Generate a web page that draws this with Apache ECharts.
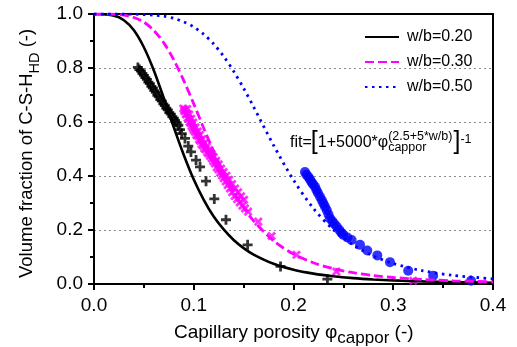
<!DOCTYPE html>
<html>
<head>
<meta charset="utf-8">
<script src="https://cdn.jsdelivr.net/npm/echarts@6/dist/echarts.min.js"></script>
<style>
html,body{margin:0;padding:0;background:#fff;}
#c{width:517px;height:347px;}
</style>
</head>
<body>
<div id="c"></div>
<script>
// ---- data ----
const xTicks = [0.0, 0.1, 0.2, 0.3, 0.4];
const yTicks = [0.0, 0.2, 0.4, 0.6, 0.8, 1.0];
const seriesNames = ['w/b=0.20', 'w/b=0.30', 'w/b=0.50'];

// fitted curves (x grid and y values)
const curveX = [0,0.02,0.03,0.04,0.05,0.06,0.07,0.08,0.09,0.10,0.11,0.12,0.13,0.14,0.15,0.16,0.18,0.20,0.22,0.24,0.26,0.28,0.30,0.33,0.36,0.40];
const fit020 = [1,0.994,0.977,0.940,0.877,0.791,0.688,0.580,0.478,0.387,0.312,0.250,0.202,0.163,0.133,0.109,0.0748,0.0529,0.0385,0.0287,0.0218,0.0169,0.0133,0.0096,0.0071,0.0049];
const fit030 = [1,0.999,0.996,0.987,0.970,0.939,0.893,0.830,0.753,0.667,0.577,0.491,0.412,0.342,0.283,0.234,0.160,0.111,0.0787,0.0569,0.0419,0.0315,0.0241,0.0166,0.0118,0.0078];
const fit050 = [1,1.000,1.000,0.9995,0.998,0.996,0.992,0.984,0.971,0.952,0.925,0.889,0.843,0.788,0.725,0.656,0.514,0.385,0.280,0.201,0.144,0.104,0.0760,0.0486,0.0320,0.0192];

// measured points
const meas020x = [0.0440,0.0455,0.0470,0.0485,0.0500,0.0515,0.0530,0.0545,0.0560,0.0575,0.0590,0.0605,0.0620,0.0635,0.0650,0.0665,0.0680,0.0695,0.0710,0.0725,0.0740,0.0755,0.0770,0.0785,0.0800,0.0812,0.0828,0.0845,0.0862,0.0879,0.0912,0.0945,0.0972,0.1023,0.1063,0.1123,0.1206,0.1323,0.1540,0.1870,0.2340];
const meas020y = [0.802,0.794,0.789,0.780,0.773,0.764,0.758,0.748,0.742,0.732,0.726,0.716,0.710,0.699,0.693,0.683,0.677,0.667,0.661,0.651,0.645,0.635,0.629,0.620,0.614,0.606,0.598,0.588,0.572,0.557,0.539,0.511,0.489,0.459,0.434,0.381,0.315,0.238,0.145,0.065,0.018];
const meas030x = [0.0895,0.0905,0.0912,0.0920,0.0930,0.0938,0.0948,0.0958,0.0968,0.0978,0.0990,0.1000,0.1013,0.1025,0.1040,0.1052,0.1065,0.1078,0.1092,0.1105,0.1120,0.1135,0.1150,0.1163,0.1180,0.1195,0.1212,0.1230,0.1248,0.1265,0.1283,0.1300,0.1320,0.1340,0.1363,0.1385,0.1410,0.1435,0.1460,0.1488,0.1514,0.1545,0.1647,0.1780,0.2030,0.2430,0.3200,
  0.0935,0.0955,0.0975,0.0995,0.1018,0.1040,0.1062,0.1085,0.1108,0.1130,0.1155,0.1178,0.1200,0.1225,0.1250,0.1275,0.1300,0.1328,0.1355,0.1385,0.1415,0.1445,0.1475,0.1505];
const meas030y = [0.650,0.640,0.645,0.628,0.632,0.615,0.612,0.600,0.596,0.585,0.578,0.570,0.563,0.552,0.548,0.535,0.530,0.518,0.512,0.502,0.498,0.487,0.483,0.474,0.465,0.455,0.446,0.432,0.424,0.412,0.402,0.392,0.380,0.367,0.354,0.340,0.326,0.314,0.302,0.290,0.280,0.268,0.231,0.178,0.108,0.046,0.012,
  0.648,0.628,0.612,0.598,0.580,0.565,0.552,0.536,0.522,0.508,0.496,0.482,0.470,0.456,0.443,0.428,0.415,0.401,0.386,0.370,0.354,0.340,0.325,0.312];
const meas050x = [0.2115,0.2130,0.2150,0.2165,0.2180,0.2195,0.2216,0.2230,0.2245,0.2266,0.2285,0.2300,0.2315,0.2333,0.2350,0.2366,0.2390,0.2410,0.2433,0.2460,0.2480,0.2500,0.2540,0.2583,0.2667,0.2740,0.2840,0.2967,0.3150,0.3400,0.3780];
const meas050y = [0.415,0.405,0.396,0.388,0.378,0.370,0.360,0.348,0.337,0.323,0.310,0.298,0.287,0.274,0.258,0.243,0.232,0.222,0.213,0.200,0.190,0.182,0.172,0.163,0.145,0.124,0.106,0.081,0.049,0.031,0.012];

// ---- helpers ----
const FONT = '"Liberation Sans", Arial, Helvetica, sans-serif';
const cv = document.createElement('canvas').getContext('2d');
function tw(t, size){ cv.font = size + 'px ' + FONT; return cv.measureText(t).width; }
function T(t, x, base, size){
  return {type:'text', x:x, y: base - 0.31*size, silent:true,
    style:{text:t, fill:'#000', font: size + 'px ' + FONT, verticalAlign:'middle', align:'left'}};
}
function zip(xs, ys){ return xs.map((x,i)=>[x, ys[i]]); }

const BLACK='#000000', MAG='#ff00ff', BLUE='#0000ff';
const plusPath = 'path://M3.6,0h2.8v3.6h3.6v2.8h-3.6v3.6h-2.8v-3.6h-3.6v-2.8h3.6z';

// ---- text graphics ----
const g = [];
// x axis title
(function(){
  let x = 174, b = 339;
  const a = 'Capillary porosity \u03c6';
  g.push(T(a, x, b, 19)); x += tw(a, 19);
  g.push(T('cappor', x, b + 5, 17)); x += tw('cappor', 17);
  g.push(T(' (-)', x, b, 19));
})();
// y axis title (rotated)
(function(){
  const kids = [];
  let x = 0;
  const a = 'Volume fraction of C-S-H';
  kids.push(T(a, x, 33, 18.5)); x += tw(a, 18.5);
  kids.push(T('HD', x, 39, 14.5)); x += tw('HD', 14.5);
  kids.push(T(' (-)', x, 33, 18.5));
  g.push({type:'group', x:0, y:278, rotation:Math.PI/2, children:kids});
})();
// fit formula
(function(){
  let x = 290;
  g.push(T('fit=', x, 148, 16)); x += tw('fit=', 16);
  g.push(T('[', x - 1, 150, 25)); x += tw('[', 25) - 1;
  g.push(T('1+5000*\u03c6', x, 148, 16)); x += tw('1+5000*\u03c6', 16);
  const sup = '(2.5+5*w/b)';
  g.push(T(sup, x, 140.5, 12.5));
  g.push(T('cappor', x, 151.5, 12.5));
  x += Math.max(tw(sup, 12.5), tw('cappor', 12.5)) + 1;
  g.push(T(']', x, 150, 25)); x += tw(']', 25);
  g.push(T('-1', x, 143.5, 12.5));
})();

const axisLabelCommon = {color:'#000', fontSize:19, fontFamily:FONT};

const option = {
  animation:false,
  backgroundColor:'#fff',
  grid:{left:94, right:24, top:14, bottom:63, containLabel:false},
  legend:{
    data: seriesNames,
    orient:'vertical', left:364, top:29, padding:0,
    itemWidth:34, itemHeight:14, itemGap:9,
    itemStyle:{opacity:0},
    textStyle:{color:'#000', fontSize:16, fontFamily:FONT, padding:[0,0,0,3]},
    selectedMode:false
  },
  xAxis:[{
    type:'value', min:0, max:0.4, interval:0.1,
    axisLine:{show:true, onZero:false, lineStyle:{color:'#000', width:2}},
    axisTick:{show:true, inside:false, length:6, lineStyle:{color:'#000', width:2}},
    minorTick:{show:true, splitNumber:2, length:4, lineStyle:{color:'#000', width:2}},
    splitLine:{show:false},
    axisLabel:Object.assign({margin:12, formatter:v=>v.toFixed(1), customValues: xTicks}, axisLabelCommon)
  },{
    type:'value', min:0, max:0.4, position:'top',
    axisLine:{show:true, onZero:false, lineStyle:{color:'#000', width:2}},
    axisTick:{show:false}, axisLabel:{show:false}, splitLine:{show:false}
  }],
  yAxis:[{
    type:'value', min:0, max:1, interval:0.2,
    axisLine:{show:true, onZero:false, lineStyle:{color:'#000', width:2}},
    axisTick:{show:true, inside:false, length:6, lineStyle:{color:'#000', width:2}},
    minorTick:{show:true, splitNumber:2, length:4, lineStyle:{color:'#000', width:2}},
    splitLine:{show:true, lineStyle:{color:'#8a8a8a', width:1, type:[2,3]}},
    axisLabel:Object.assign({margin:11, formatter:v=>v.toFixed(1), customValues: yTicks}, axisLabelCommon)
  },{
    type:'value', min:0, max:1, position:'right',
    axisLine:{show:true, onZero:false, lineStyle:{color:'#000', width:2}},
    axisTick:{show:false}, axisLabel:{show:false}, splitLine:{show:false}
  }],
  series:[
    {name:'meas020', type:'scatter', data:zip(meas020x, meas020y), symbol:plusPath, symbolSize:10,
      itemStyle:{color:BLACK}, z:3},
    {name:'meas030', type:'scatter', data:zip(meas030x, meas030y), symbol:plusPath, symbolSize:10, symbolRotate:45,
      itemStyle:{color:MAG}, z:3},
    {name:'meas050', type:'scatter', data:zip(meas050x, meas050y), symbol:'circle', symbolSize:10,
      itemStyle:{color:BLUE}, z:3},
    {name:seriesNames[0], type:'line', data:zip(curveX, fit020), showSymbol:false, symbol:'none', smooth:0.3,
      lineStyle:{color:BLACK, width:2.6, type:'solid'}, itemStyle:{color:BLACK}, z:4},
    {name:seriesNames[1], type:'line', data:zip(curveX, fit030), showSymbol:false, symbol:'none', smooth:0.3,
      lineStyle:{color:MAG, width:2.8, type:[9,4]}, itemStyle:{color:MAG}, z:4},
    {name:seriesNames[2], type:'line', data:zip(curveX, fit050), showSymbol:false, symbol:'none', smooth:0.3,
      lineStyle:{color:BLUE, width:2.8, type:[2.5,4.5]}, itemStyle:{color:BLUE}, z:4}
  ],
  graphic: g
};

const chart = echarts.init(document.getElementById('c'), null, {renderer:'canvas', width:517, height:347});
chart.setOption(option);
</script>
</body>
</html>
